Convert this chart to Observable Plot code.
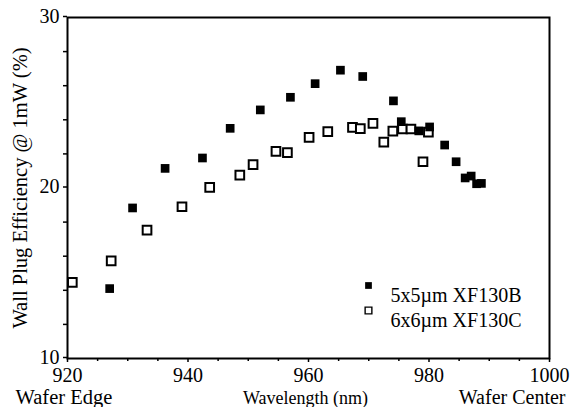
<!DOCTYPE html>
<html>
<head>
<meta charset="utf-8">
<script src="https://cdn.jsdelivr.net/npm/d3@7"></script>
<script src="https://cdn.jsdelivr.net/npm/@observablehq/plot@0.6"></script>
<style>
  html, body { margin: 0; padding: 0; background: #fff; }
  #chart { width: 572px; height: 407px; }
  #chart svg, #chart svg text { font-family: "Liberation Serif", "Times New Roman", serif !important; }
</style>
</head>
<body>
<div id="chart"></div>
<script>
// Series names (legend)
const seriesNames = ["5x5\u00b5m XF130B", "6x6\u00b5m XF130C"];

// 5x5um XF130B (filled squares)
const wavelengthB = [927.0, 930.8, 936.2, 942.4, 947.0, 952.0, 957.0, 961.1, 965.3, 969.0,
                     974.1, 975.4, 978.3, 980.1, 982.6, 984.5, 986.0, 987.0, 987.9, 988.7];
const efficiencyB = [14.1, 18.83, 21.15, 21.76, 23.5, 24.58, 25.32, 26.12, 26.91, 26.54,
                     25.11, 23.89, 23.35, 23.58, 22.52, 21.54, 20.59, 20.70, 20.25, 20.27];

// 6x6um XF130C (open squares)
const wavelengthC = [920.8, 927.25, 933.2, 939.0, 943.6, 948.6, 950.8, 954.6, 956.5, 960.1,
                     963.2, 967.3, 968.6, 970.7, 972.5, 974.0, 975.6, 977.0, 979.0, 979.9];
const efficiencyC = [14.46, 15.73, 17.53, 18.9, 20.04, 20.76, 21.37, 22.15, 22.07, 22.97,
                     23.31, 23.56, 23.48, 23.79, 22.69, 23.34, 23.46, 23.46, 21.54, 23.28];

// Axis ticks and labels
const xTicks = [920, 940, 960, 980, 1000];
const xMinorTicks = [925, 930, 935, 945, 950, 955, 965, 970, 975, 985, 990, 995];
const yTicks = [10, 20, 30];
const yMinorTicks = [12, 14, 16, 18, 22, 24, 26, 28];
const xLabelLeft = "Wafer Edge";
const xLabelMid = "Wavelength (nm)";
const xLabelRight = "Wafer Center";
const yLabel = "Wall Plug Efficiency @ 1mW (%)";

const dataB = wavelengthB.map((w, i) => ({w, e: efficiencyB[i]}));
const dataC = wavelengthC.map((w, i) => ({w, e: efficiencyC[i]}));

const FONT = "Liberation Serif";

const plot = Plot.plot({
  width: 572,
  height: 407,
  marginLeft: 67,
  marginRight: 23,
  marginTop: 17,
  marginBottom: 49,
  style: "font-family: 'Liberation Serif', serif; font-size: 20px; color: black; background: white;",
  x: {domain: [920, 1000], label: null},
  y: {domain: [10, 30], label: null},
  marks: [
    // minor ticks
    Plot.axisX(xMinorTicks, {tickSize: 3, tickFormat: () => "", strokeWidth: 1.5}),
    Plot.axisY(yMinorTicks, {tickSize: 4, tickFormat: () => "", strokeWidth: 1.5}),
    // major ticks + labels
    Plot.axisX(xTicks, {tickSize: 4, tickPadding: 5, fontSize: 20, fontFamily: FONT, strokeWidth: 1.5, tickFormat: d => String(d)}),
    Plot.axisY(yTicks, {tickSize: 4, tickPadding: 4, fontSize: 20, fontFamily: FONT, dy: -1, strokeWidth: 1.5, tickFormat: d => String(d)}),
    Plot.frame({stroke: "black", strokeWidth: 2}),
    // data
    Plot.dot(dataC, {x: "w", y: "e", symbol: "square", r: 4.9, stroke: "black", strokeWidth: 2, fill: "white"}),
    Plot.dot(dataB, {x: "w", y: "e", symbol: "square", r: 4.9, fill: "black", stroke: "none"}),
    // axis labels
    Plot.text([xLabelLeft], {text: d => d, frameAnchor: "bottom-left", textAnchor: "start", dx: -52, dy: 45, fontSize: 20.5, fontFamily: FONT}),
    Plot.text([xLabelMid], {text: d => d, frameAnchor: "bottom", textAnchor: "middle", dx: -3, dy: 45, fontSize: 18, fontFamily: FONT}),
    Plot.text([xLabelRight], {text: d => d, frameAnchor: "bottom-right", textAnchor: "end", dx: 16, dy: 45, fontSize: 20, fontFamily: FONT}),
    Plot.text([yLabel], {text: d => d, frameAnchor: "left", textAnchor: "middle", rotate: -90, dx: -47, dy: 0, fontSize: 20.5, fontFamily: FONT}),
    // legend
    Plot.dot([seriesNames[0]], {frameAnchor: "top-left", dx: 301, dy: 268, symbol: "square", r: 3.8, fill: "black"}),
    Plot.dot([seriesNames[1]], {frameAnchor: "top-left", dx: 301, dy: 293, symbol: "square", r: 3.8, fill: "white", stroke: "black", strokeWidth: 1.4}),
    Plot.text([seriesNames[0]], {text: d => d, frameAnchor: "top-left", textAnchor: "start", dx: 323, dy: 270, fontSize: 20, fontFamily: FONT}),
    Plot.text([seriesNames[1]], {text: d => d, frameAnchor: "top-left", textAnchor: "start", dx: 323, dy: 295, fontSize: 20, fontFamily: FONT})
  ]
});
document.getElementById("chart").appendChild(plot);
</script>
</body>
</html>
